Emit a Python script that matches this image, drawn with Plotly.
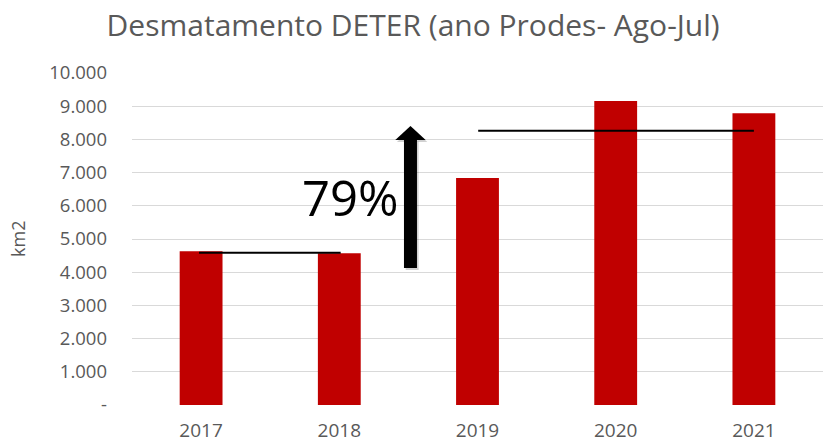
import plotly.graph_objects as go

years = ["2017", "2018", "2019", "2020", "2021"]
deter_km2 = [4630, 4569, 6840, 9160, 8790]
ytick_vals = [0, 1000, 2000, 3000, 4000, 5000, 6000, 7000, 8000, 9000, 10000]
ytick_text = ["-", "1.000", "2.000", "3.000", "4.000", "5.000", "6.000", "7.000", "8.000", "9.000", "10.000"]
avg_before = 4587
avg_after = 8262
pct_label = "79%"

xpos = list(range(len(years)))

fig = go.Figure()
fig.add_trace(go.Bar(x=xpos, y=deter_km2, marker_color="#c00000", width=0.31, marker_line_width=0))

# reference lines
fig.add_shape(type="line", x0=-0.015, x1=1.01, y0=avg_before, y1=avg_before,
              line=dict(color="black", width=2), xref="x", yref="y")
fig.add_shape(type="line", x0=2.005, x1=4.0, y0=avg_after, y1=avg_after,
              line=dict(color="black", width=2), xref="x", yref="y")

# arrow (shadow + body)
ax = 1.515
def arrow(dx, dy, color):
    fig.add_shape(type="line", x0=ax + dx, x1=ax + dx, y0=4127 + dy, y1=8000 + dy,
                  line=dict(color=color, width=13), xref="x", yref="y")
    fig.add_shape(type="path",
                  path=f"M {ax - 0.11 + dx} {7980 + dy} L {ax + dx} {8404 + dy} L {ax + 0.11 + dx} {7980 + dy} Z",
                  fillcolor=color, line=dict(width=0), xref="x", yref="y")
arrow(0.012, -60, "rgba(0,0,0,0.18)")
arrow(0, 0, "black")

fig.add_annotation(x=1.08, y=6265, text=pct_label, showarrow=False, xref="x", yref="y",
                   font=dict(family="Open Sans", size=49, color="black"))

fig.add_annotation(x=-0.165, y=0.5, xref="paper", yref="paper", text="km2", textangle=-90,
                   xanchor="center", yanchor="middle",
                   showarrow=False, font=dict(family="Open Sans", size=18, color="#595959"))

fig.update_layout(
    width=823, height=442,
    margin=dict(l=132, r=0, t=73, b=37, autoexpand=False),
    paper_bgcolor="white", plot_bgcolor="white",
    showlegend=False,
    title=dict(text="Desmatamento DETER (ano Prodes- Ago-Jul)", x=0.502, xanchor="center",
               y=1 - 25 / 442, yanchor="middle", yref="container",
               font=dict(family="Open Sans", size=30, color="#595959")),
    xaxis=dict(range=[-0.5, 4.5], tickvals=xpos, ticktext=years, showgrid=False, zeroline=False,
               automargin=False,
               tickfont=dict(family="Open Sans", size=19, color="#595959"), ticklabelstandoff=12),
    yaxis=dict(range=[0, 10000], tickvals=ytick_vals, ticktext=ytick_text, showgrid=True,
               automargin=False,
               gridcolor="#d9d9d9", gridwidth=1, zeroline=False,
               tickfont=dict(family="Open Sans", size=18.5, color="#595959"), ticklabelstandoff=24),
)

fig.write_html("out.html", config={"displayModeBar": False},
               post_script="document.body.style.margin='0';document.body.style.overflow='hidden';")
